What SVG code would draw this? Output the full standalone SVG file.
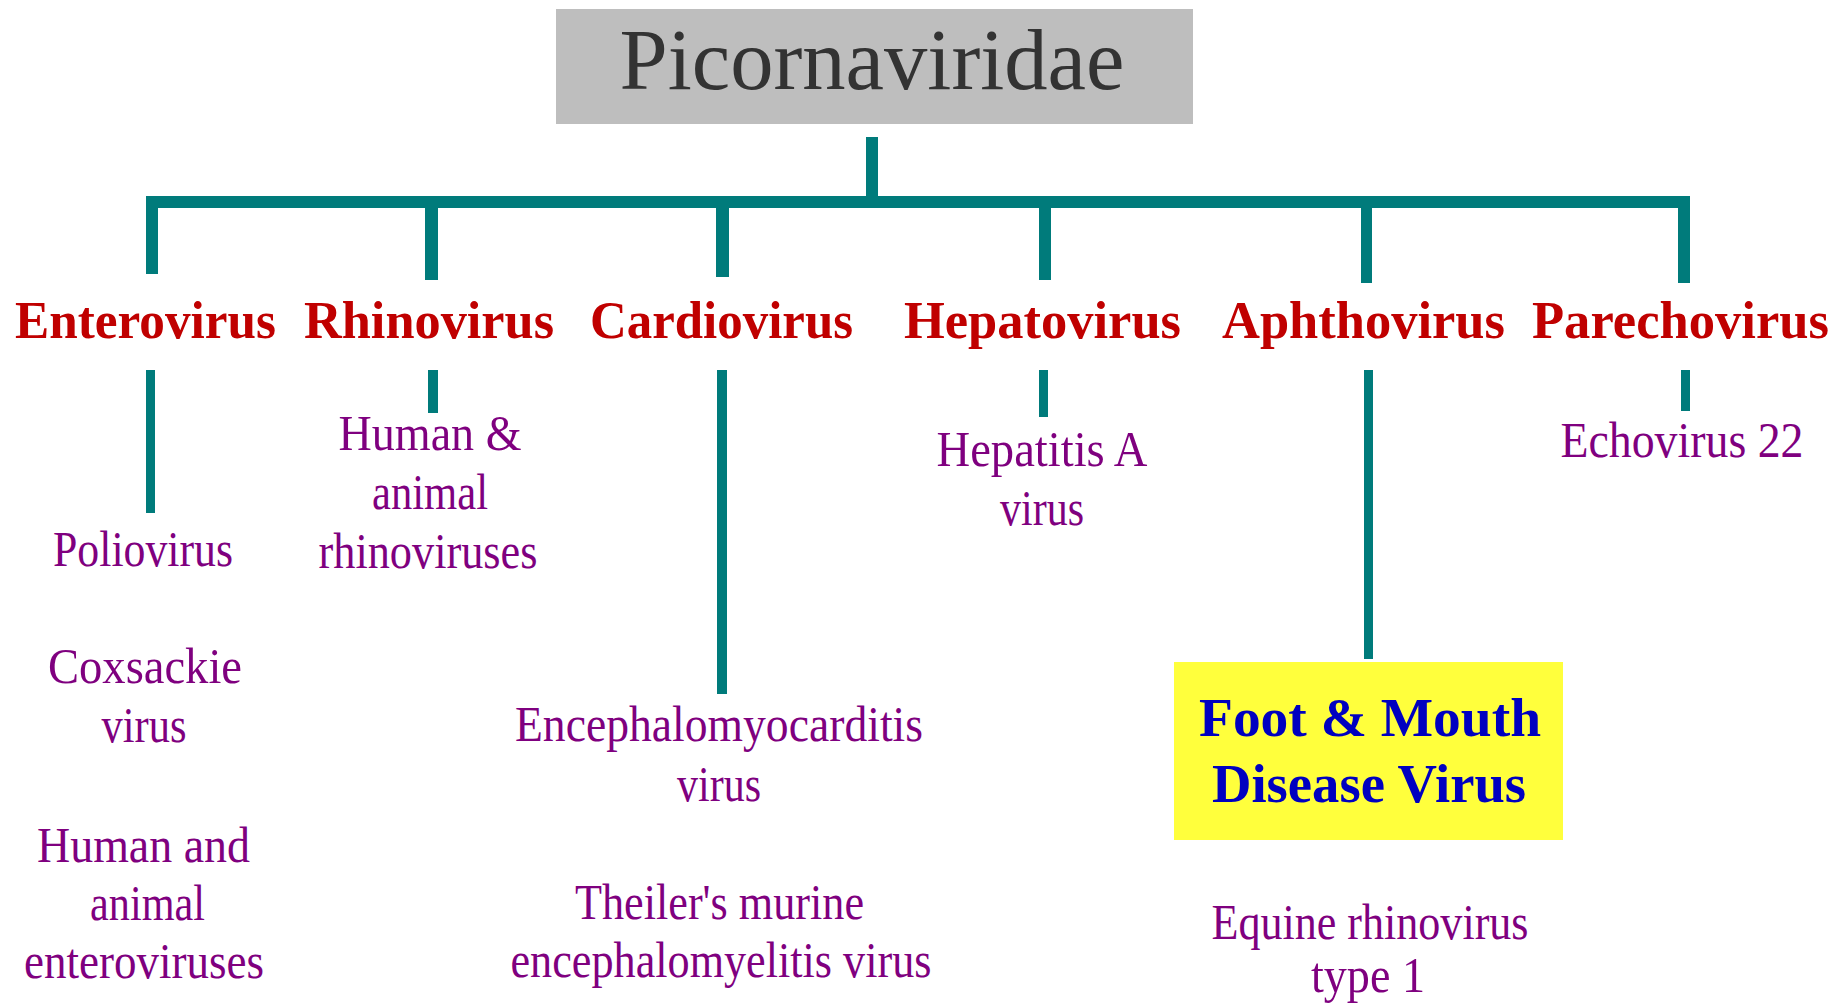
<svg xmlns="http://www.w3.org/2000/svg" width="1847" height="1004" viewBox="0 0 1847 1004">
<style>
text{font-family:"Liberation Serif","Times New Roman",serif;text-anchor:middle}
.title{font-size:86px;fill:#333333}
.genus{font-size:53px;font-weight:bold;fill:#c00000}
.sp{font-size:50px;fill:#7f007f}
.fmd{font-size:54px;font-weight:bold;fill:#0000c0}
.ln{fill:#007b7b}
</style>
<rect width="1847" height="1004" fill="#ffffff"/>
<g id="connectors">
<rect class="ln" x="866" y="137" width="12" height="65"/>
<rect class="ln" x="146" y="196" width="1544" height="12"/>
<rect class="ln" x="146" y="196" width="12" height="78"/>
<rect class="ln" x="425" y="196" width="13" height="84"/>
<rect class="ln" x="716" y="196" width="13" height="81"/>
<rect class="ln" x="1039" y="196" width="12" height="84"/>
<rect class="ln" x="1361" y="196" width="11" height="87"/>
<rect class="ln" x="1678" y="196" width="12" height="87"/>
<rect class="ln" x="146" y="370" width="9" height="143"/>
<rect class="ln" x="428" y="370" width="10" height="43"/>
<rect class="ln" x="717" y="370" width="10" height="324"/>
<rect class="ln" x="1039" y="370" width="9" height="47"/>
<rect class="ln" x="1364" y="370" width="9" height="289"/>
<rect class="ln" x="1681" y="370" width="9" height="41"/>
</g>
<g id="picornaviridae">
<rect x="556" y="9" width="637" height="115" fill="#bebebe"/>
<text class="title" x="872" y="89" textLength="505" lengthAdjust="spacingAndGlyphs">Picornaviridae</text>
</g>
<g id="enterovirus"><text class="genus" x="145.5" y="338" textLength="261" lengthAdjust="spacingAndGlyphs">Enterovirus</text></g>
<g id="rhinovirus"><text class="genus" x="429" y="338" textLength="250" lengthAdjust="spacingAndGlyphs">Rhinovirus</text></g>
<g id="cardiovirus"><text class="genus" x="721.5" y="338" textLength="263" lengthAdjust="spacingAndGlyphs">Cardiovirus</text></g>
<g id="hepatovirus"><text class="genus" x="1042.5" y="338" textLength="277" lengthAdjust="spacingAndGlyphs">Hepatovirus</text></g>
<g id="aphthovirus"><text class="genus" x="1363.5" y="338" textLength="283" lengthAdjust="spacingAndGlyphs">Aphthovirus</text></g>
<g id="parechovirus"><text class="genus" x="1680.5" y="338" textLength="297" lengthAdjust="spacingAndGlyphs">Parechovirus</text></g>
<g id="entero-species">
<text class="sp" x="143" y="566" textLength="180" lengthAdjust="spacingAndGlyphs">Poliovirus</text>
<text class="sp" x="145" y="683" textLength="194" lengthAdjust="spacingAndGlyphs">Coxsackie</text>
<text class="sp" x="144" y="742" textLength="85" lengthAdjust="spacingAndGlyphs">virus</text>
<text class="sp" x="143.5" y="862" textLength="213" lengthAdjust="spacingAndGlyphs">Human and</text>
<text class="sp" x="147.5" y="920" textLength="115" lengthAdjust="spacingAndGlyphs">animal</text>
<text class="sp" x="144" y="978" textLength="240" lengthAdjust="spacingAndGlyphs">enteroviruses</text>
</g>
<g id="rhino-species">
<text class="sp" x="430" y="450" textLength="183" lengthAdjust="spacingAndGlyphs">Human &amp;</text>
<text class="sp" x="430" y="509" textLength="116" lengthAdjust="spacingAndGlyphs">animal</text>
<text class="sp" x="428" y="568" textLength="219" lengthAdjust="spacingAndGlyphs">rhinoviruses</text>
</g>
<g id="cardio-species">
<text class="sp" x="719" y="741" textLength="408" lengthAdjust="spacingAndGlyphs">Encephalomyocarditis</text>
<text class="sp" x="719" y="801" textLength="84" lengthAdjust="spacingAndGlyphs">virus</text>
<text class="sp" x="719.5" y="919" textLength="289" lengthAdjust="spacingAndGlyphs">Theiler's murine</text>
<text class="sp" x="721" y="977" textLength="421" lengthAdjust="spacingAndGlyphs">encephalomyelitis virus</text>
</g>
<g id="hepato-species">
<text class="sp" x="1042" y="466" textLength="211" lengthAdjust="spacingAndGlyphs">Hepatitis A</text>
<text class="sp" x="1042" y="525" textLength="84" lengthAdjust="spacingAndGlyphs">virus</text>
</g>
<g id="fmdv">
<rect x="1174" y="662" width="389" height="178" fill="#ffff3c"/>
<text class="fmd" x="1370" y="736" textLength="342" lengthAdjust="spacingAndGlyphs">Foot &amp; Mouth</text>
<text class="fmd" x="1369" y="802" textLength="314" lengthAdjust="spacingAndGlyphs">Disease Virus</text>
</g>
<g id="aphtho-species">
<text class="sp" x="1370" y="938.5" textLength="317" lengthAdjust="spacingAndGlyphs">Equine rhinovirus</text>
<text class="sp" x="1368" y="992" textLength="114" lengthAdjust="spacingAndGlyphs">type 1</text>
</g>
<g id="parecho-species">
<text class="sp" x="1682" y="456.5" textLength="243" lengthAdjust="spacingAndGlyphs">Echovirus 22</text>
</g>
</svg>
